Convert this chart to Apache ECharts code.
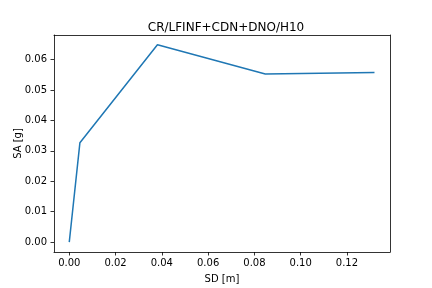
<!DOCTYPE html>
<html><head><meta charset="utf-8">
<script src="https://cdn.jsdelivr.net/npm/echarts@6/dist/echarts.min.js"></script>
<style>html,body{margin:0;padding:0;background:#fff}#c{width:432px;height:288px}</style>
</head><body><div id="c"></div>
<script>
const titleText = "CR/LFINF+CDN+DNO/H10";
const sdValues = [0.0, 0.0046, 0.0381, 0.0847, 0.1319];
const saValues = [0.0, 0.0327, 0.0649, 0.0553, 0.0558];
const xTicks = [0.00, 0.02, 0.04, 0.06, 0.08, 0.10, 0.12];
const yTicks = [0.00, 0.01, 0.02, 0.03, 0.04, 0.05, 0.06];

const font = "DejaVu Sans";
const xMin = -0.0066, xMax = 0.1386;
const yMin = -0.00325, yMax = 0.0681;
const fmt = v => v.toFixed(2);
const lineStyle = {color: '#000', width: 0.8};
const chart = echarts.init(document.getElementById('c'), null, {renderer: 'canvas'});
chart.setOption({
  animation: false,
  title: {text: titleText, left: 221, textAlign: 'center', top: 17,
    textStyle: {fontFamily: font, fontSize: 12, fontWeight: 'normal', color: '#000'}},
  grid: {left: 54, right: 42, top: 35, bottom: 36, containLabel: false, outerBoundsMode: 'none'},
  xAxis: [{
    type: 'value', min: xMin, max: xMax, position: 'bottom',
    name: 'SD [m]', nameLocation: 'middle', nameGap: 22, nameMoveOverlap: false,
    nameTextStyle: {fontFamily: font, fontSize: 10, color: '#000'},
    axisLine: {show: true, onZero: false, lineStyle},
    axisTick: {show: true, inside: false, length: 3.5, lineStyle, customValues: xTicks},
    axisLabel: {fontFamily: font, fontSize: 10, color: '#000', margin: 6, formatter: fmt, customValues: xTicks},
    splitLine: {show: false}
  }, {
    type: 'value', min: xMin, max: xMax, position: 'top',
    axisLine: {show: true, onZero: false, lineStyle},
    axisTick: {show: false}, axisLabel: {show: false}, splitLine: {show: false}
  }],
  yAxis: [{
    type: 'value', min: yMin, max: yMax, position: 'left',
    name: 'SA [g]', nameLocation: 'middle', nameGap: 31, nameRotate: 90, nameMoveOverlap: false,
    nameTextStyle: {fontFamily: font, fontSize: 10, color: '#000'},
    axisLine: {show: true, onZero: false, lineStyle},
    axisTick: {show: true, inside: false, length: 3.5, lineStyle, customValues: yTicks},
    axisLabel: {fontFamily: font, fontSize: 10, color: '#000', margin: 7, formatter: fmt, customValues: yTicks},
    splitLine: {show: false}
  }, {
    type: 'value', min: yMin, max: yMax, position: 'right',
    axisLine: {show: true, onZero: false, lineStyle},
    axisTick: {show: false}, axisLabel: {show: false}, splitLine: {show: false}
  }],
  series: [{
    type: 'line', xAxisIndex: 0, yAxisIndex: 0,
    data: sdValues.map((x, i) => [x, saValues[i]]),
    showSymbol: false, symbol: 'none',
    lineStyle: {color: '#1f77b4', width: 1.5}
  }]
});
</script></body></html>
